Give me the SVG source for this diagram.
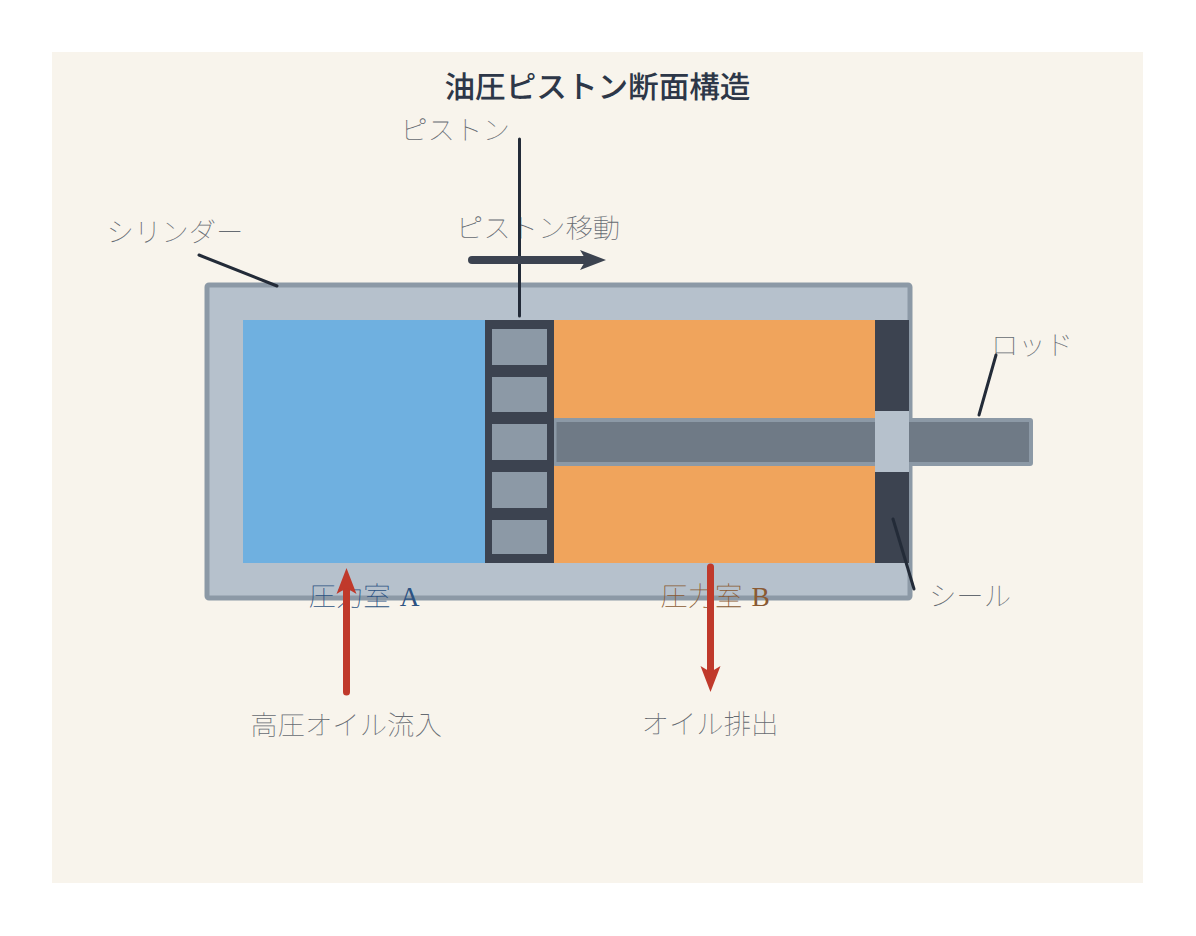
<svg xmlns="http://www.w3.org/2000/svg" width="1196" height="936" viewBox="0 0 1196 936">
<style>
text{text-rendering:geometricPrecision}
.lb{font-family:"Noto Sans CJK JP",serif;font-size:27.400px;font-weight:100;fill:#666b72;text-anchor:middle}
.lt{font-family:"Liberation Serif",serif;font-weight:400}
.ld{stroke:#232b38;stroke-width:3;stroke-linecap:round;fill:none}
.fl{stroke:#c0392b;stroke-width:7;stroke-linecap:round;fill:none}
.pad{fill:#8c99a6}
</style>
<defs>
<marker id="ar" markerUnits="userSpaceOnUse" markerWidth="30" markerHeight="30" refX="6" refY="10" orient="auto" viewBox="0 0 30 20"><path d="M0 0L26 10L0 20L6 10Z" fill="#c0392b"/></marker>
<marker id="ad" markerUnits="userSpaceOnUse" markerWidth="30" markerHeight="30" refX="6" refY="10" orient="auto" viewBox="0 0 30 20"><path d="M0 0L26 10L0 20L6 10Z" fill="#3c4350"/></marker>
</defs>
<rect width="1196" height="936" fill="#fff"/>
<rect x="52" y="52" width="1091" height="831" fill="#f8f4ec"/>
<text x="597.500" y="97.500" text-anchor="middle" style="font-family:'Noto Sans CJK JP',sans-serif;font-size:30.600px;font-weight:500;fill:#2d3748">油圧ピストン断面構造</text>
<g id="cylinder"><rect x="207" y="285" width="703" height="313" rx="2" fill="#b6c1cc" stroke="#8c99a6" stroke-width="5"/></g>
<g id="chamberA"><rect x="243" y="320" width="243" height="243" fill="#6fb0e0"/></g>
<g id="chamberB"><rect x="553" y="320" width="323" height="243" fill="#f0a45c"/></g>
<g id="seal"><rect x="875" y="320" width="34" height="243" fill="#3c4350"/></g>
<g id="rod"><rect x="554.500" y="420" width="476.500" height="44" rx="1" fill="#6f7a86" stroke="#8c99a6" stroke-width="4"/><rect x="875" y="411" width="34" height="61" fill="#b6c1cc"/></g>
<g id="piston"><rect x="485" y="320" width="69" height="243" fill="#3c4350"/>
<rect class="pad" x="492" y="329" width="55" height="36"/><rect class="pad" x="492" y="377" width="55" height="35"/><rect class="pad" x="492" y="424" width="55" height="36"/><rect class="pad" x="492" y="472" width="55" height="36"/><rect class="pad" x="492" y="520" width="55" height="34"/></g>
<g id="labels">
<text class="lb" x="455" y="140">ピストン</text>
<text class="lb" x="538" y="238">ピストン移動</text>
<text class="lb" x="175" y="242">シリンダー</text>
<text class="lb" x="1032" y="355">ロッド</text>
<text class="lb" x="970" y="606">シール</text>
<text class="lb" x="364" y="606" style="fill:#2c5282">圧力室<tspan class="lt" dx="9">A</tspan></text>
<text class="lb" x="715" y="606" style="fill:#8a5a33">圧力室<tspan class="lt" dx="9">B</tspan></text>
<text class="lb" x="346" y="735">高圧オイル流入</text>
<text class="lb" x="710" y="734">オイル排出</text>
</g>
<g id="connectors">
<line class="ld" x1="519.500" y1="139" x2="519.500" y2="316"/>
<line class="ld" x1="199" y1="255" x2="277" y2="286"/>
<line class="ld" x1="996" y1="355" x2="979" y2="415"/>
<line class="ld" x1="893" y1="519" x2="914" y2="589"/>
<line x1="472" y1="260" x2="586" y2="260" stroke="#3c4350" stroke-width="8" stroke-linecap="round" marker-end="url(#ad)"/>
<line class="fl" x1="346.500" y1="692" x2="346.500" y2="588" marker-end="url(#ar)"/>
<line class="fl" x1="710.500" y1="567" x2="710.500" y2="672" marker-end="url(#ar)"/>
</g>
</svg>
